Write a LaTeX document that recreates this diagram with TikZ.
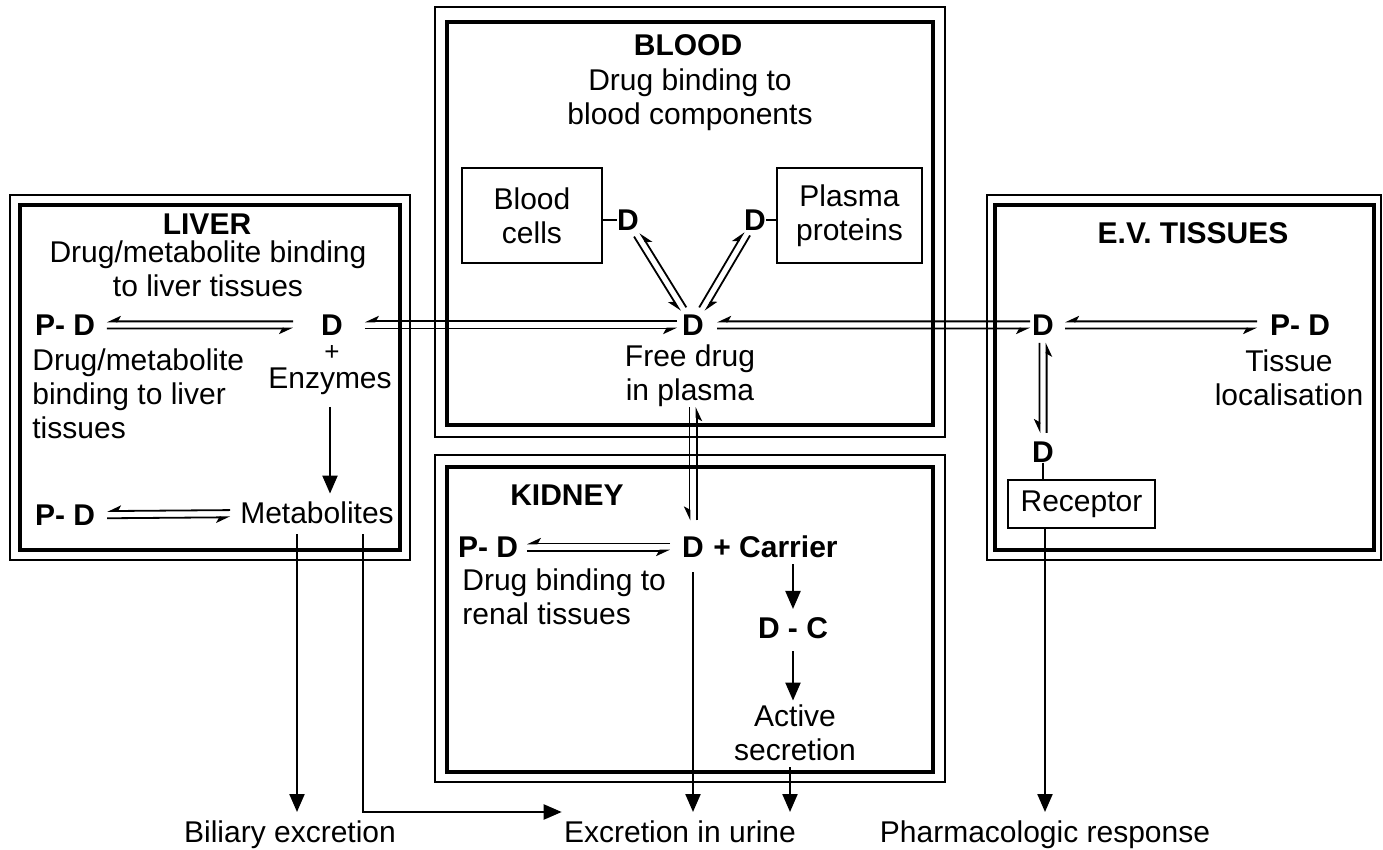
\documentclass[tikz,border=0pt]{standalone}
\usepackage{fontspec}
\setmainfont{Liberation Sans}
\usetikzlibrary{arrows.meta,calc}
\newcommand\eqp[6]{%
  \path ($(#1)!#3!(#2)$) coordinate (eqS) ($(#1)!#4!(#2)$) coordinate (eqE);
  \draw[eqline,#6] ($(eqE)!#5!-90:(eqS)$) -- ($(eqS)!#5!90:(eqE)$);
  \draw[eqline,#6] ($(eqS)!#5!-90:(eqE)$) -- ($(eqE)!#5!90:(eqS)$);
}
\begin{document}
\begin{tikzpicture}[x=0.5pt,y=-0.5pt,
  every node/.style={inner sep=0pt, align=center, font=\fontsize{15}{17}\selectfont},
  bf/.style={font=\fontsize{15}{17}\selectfont\bfseries},
  ofr/.style={draw, line width=0.8pt},
  ifr/.style={draw, line width=2.2pt},
  sbox/.style={draw, line width=1pt, inner sep=0pt},
  arr/.style={line width=1.1pt, -{Triangle[length=9pt,width=7.5pt]}},
  eqline/.style={line width=0.9pt},
  eqA/.style={-{Stealth[harpoon,swap,length=6pt,width=5.5pt,inset=1.5pt]}},
  eqB/.style={-{Stealth[harpoon,length=6pt,width=5.5pt,inset=1.5pt]}},
  lnk/.style={line width=1pt}
]
\fill[white] (0,0) rectangle (1383,850);
\useasboundingbox (0,0) rectangle (1383,850);

% frames
\draw[ofr] (10,195) rectangle (410,560);
\draw[ifr] (20,205) rectangle (400,550);
\draw[ofr] (435,7) rectangle (945,437);
\draw[ifr] (447,22) rectangle (933,425);
\draw[ofr] (435,455) rectangle (945,782);
\draw[ifr] (447,467) rectangle (933,772);
\draw[ofr] (987,195) rectangle (1381,560);
\draw[ifr] (995,205) rectangle (1374,550);

% LIVER
\node[bf] (liverT) at (207,224) {LIVER};
\node (liverS) at (208,269) {Drug/metabolite binding\\to liver tissues};
\node[bf] (lPD1) at (65,325) {P- D};
\node[bf] (lD) at (332,325) {D};
\node[font=\fontsize{13}{13}\selectfont] (lplus) at (332,353) {+};
\node (lenz) at (330,381) {Enzymes};
\node[anchor=west, align=left] (lbind) at (32,394) {Drug/metabolite\\binding to liver\\tissues};
\node (lmet) at (317,513) {Metabolites};
\node[bf] (lPD2) at (65,515) {P- D};

% BLOOD
\node[bf] (bT) at (688,45) {BLOOD};
\node (bS) at (690,100) {Drug binding to\\blood components};
\node[sbox, minimum width=70pt, minimum height=47.5pt] (bcells) at (532,215.5) {Blood\\cells};
\node[sbox, minimum width=72.5pt, minimum height=47.5pt] (pprot) at (849.5,215.5) {Plasma\\proteins};
\node[bf] (bcD) at (628,220) {D};
\node[bf] (ppD) at (755,220) {D};
\node[bf] (fD) at (693,325) {D};
\node (fT) at (690,376) {Free drug\\in plasma};

% KIDNEY
\node[bf] (kT) at (567,495) {KIDNEY};
\node[bf] (kPD) at (488,547) {P- D};
\node[bf] (kD) at (693,547) {D};
\node[bf, anchor=west] (kC) at (713,547) {+ Carrier};
\node[anchor=west, align=left] (kbind) at (462,597) {Drug binding to\\renal tissues};
\node[bf] (kDC) at (793,628) {D - C};
\node (kact) at (795,733) {Active\\secretion};

% EV TISSUES
\node[bf] (eT) at (1193,233) {E.V. TISSUES};
\node[bf] (eD) at (1043,325) {D};
\node[bf] (ePD) at (1300,325) {P- D};
\node (eloc) at (1289,378) {Tissue\\localisation};
\node[bf] (eD2) at (1043,452) {D};
\node[sbox, minimum width=73.5pt, minimum height=24pt] (erec) at (1081.5,504) {Receptor};

% bottom labels
\node[anchor=base] (bil) at (290,842) {Biliary excretion};
\node[anchor=base] (uri) at (680,842) {Excretion in urine};
\node[anchor=base] (pha) at (1045,842) {Pharmacologic response};

% equilibria
\eqp{lPD1}{lD}{0.157}{0.854}{1.8pt}{eqA}
\eqp{lPD2}{lmet}{0.167}{0.655}{1.8pt}{eqA}
\eqp{lD}{fD}{0.091}{0.956}{1.8pt}{eqA}
\eqp{fD}{eD}{0.069}{0.963}{1.8pt}{eqA}
\eqp{eD}{ePD}{0.086}{0.833}{1.8pt}{eqA}
\eqp{kPD}{kD}{0.19}{0.888}{1.8pt}{eqA}
\eqp{fD}{kD}{0.37}{0.88}{1.8pt}{eqA}
\eqp{eD}{eD2}{0.14}{0.85}{1.8pt}{eqA}
\eqp{bcD}{fD}{0.14}{0.85}{1.8pt}{eqA}
\eqp{ppD}{fD}{0.13}{0.85}{-1.8pt}{eqB}

% links
\draw[lnk] (bcells.east |- bcD) -- (bcD.west);
\draw[lnk] (ppD.east) -- (pprot.west |- ppD);
\draw[lnk] (eD2.south) -- (erec.north -| eD2);

% arrows
\draw[arr] ($(lenz.center)+(0,26)$) -- ($(lenz.center |- lmet.north)+(0,-8)$);
\draw[arr] ($(kDC.center |- kC.south)+(0,6)$) -- ($(kDC.north)+(0,-8)$);
\draw[arr] ($(kDC.south)+(0,12)$) -- ($(kDC.center |- kact.north)+(0,-4)$);
\coordinate (m1) at ($(lmet.south)+(-20,10)$);
\coordinate (m2) at ($(lmet.south)+(46,10)$);
\coordinate (bot) at (0,812);
\draw[arr] (m1) -- (m1 |- bot);
\draw[arr] (m2) -- (m2 |- bot) -- ($(uri.west |- bot)+(-2,0)$);
\draw[arr] ($(kD.center)+(0,25)$) -- (kD.center |- bot);
\draw[arr] ($(kact.south)+(-5,6)$) -- ($(kact.south |- bot)+(-5,0)$);
\draw[arr] (erec.south -| pha) -- (pha |- bot);
\end{tikzpicture}
\end{document}
